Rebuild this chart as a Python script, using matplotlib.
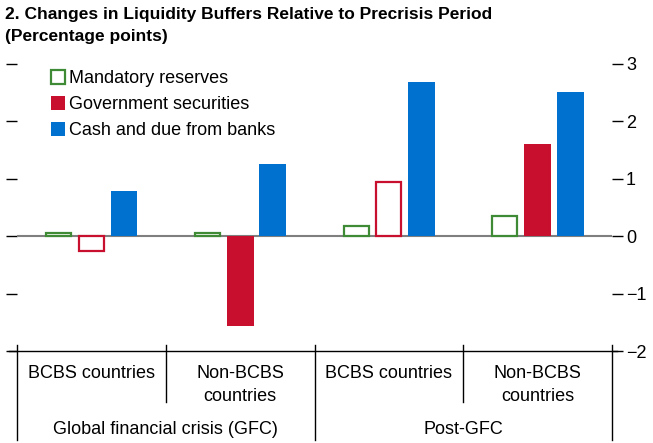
import matplotlib.pyplot as plt
import matplotlib.transforms as mtransforms
from matplotlib.patches import Patch
import numpy as np

plt.rcParams['font.family'] = ['Liberation Sans Narrow', 'Liberation Sans', 'DejaVu Sans']
plt.rcParams['axes.unicode_minus'] = True

periods = ["Global financial crisis (GFC)", "Post-GFC"]
groups = ["BCBS countries", "Non-BCBS\ncountries", "BCBS countries", "Non-BCBS\ncountries"]
series = ["Mandatory reserves", "Government securities", "Cash and due from banks"]
mandatory = [0.06, 0.06, 0.17, 0.36]
gov_sec = [-0.26, -1.56, 0.95, 1.61]
cash = [0.78, 1.26, 2.69, 2.52]
# True = solid bar, False = hollow bar
mandatory_filled = [False, False, False, False]
gov_sec_filled = [False, True, False, True]
cash_filled = [True, True, True, True]
yticks = [-2, -1, 0, 1, 2, 3]

colors = ["#3f8a34", "#c8102e", "#0071ce"]

fig = plt.figure(figsize=(6.53, 4.43), dpi=100)
ax = fig.add_axes([17 / 653, 1 - 351 / 443, 595 / 653, 287 / 443])

x = np.arange(len(groups))
width = 0.18
offs = [-0.22, 0.0, 0.22]
for vals, filled, off, c in zip([mandatory, gov_sec, cash],
                                [mandatory_filled, gov_sec_filled, cash_filled],
                                offs, colors):
    for xi, v, f in zip(x, vals, filled):
        if f:
            ax.bar(xi + off, v, width, color=c, zorder=3)
        else:
            ax.bar(xi + off, v, width - 0.012, facecolor="white", edgecolor=c,
                   linewidth=1.6, zorder=3)

ax.axhline(0, color="#7f7f7f", linewidth=1.5, zorder=2)
ax.set_xlim(-0.5, 3.5)
ax.set_ylim(-2, 3)

for s in ["top", "left", "right", "bottom"]:
    ax.spines[s].set_visible(False)

ax.set_xticks([])
ax.set_yticks(yticks)
ax.tick_params(axis="y", which="both", left=True, right=True, labelleft=False,
               labelright=True, direction="out", length=8, width=1.0,
               labelsize=13, pad=2)

# bottom axis line and category dividers
ax.plot([-0.014, 1.009], [0, 0], transform=ax.transAxes, color="black",
        linewidth=1.0, clip_on=False)
trans = mtransforms.blended_transform_factory(ax.transData, ax.transAxes)
for xb in [-0.5, 1.5, 3.5]:
    ax.plot([xb, xb], [0.022, -0.31], transform=trans, color="black",
            linewidth=1.0, clip_on=False)
for xb in [0.5, 2.5]:
    ax.plot([xb, xb], [0.022, -0.178], transform=trans, color="black",
            linewidth=1.0, clip_on=False)

for xi, g in zip(x, groups):
    ax.text(xi, -0.048, g, transform=trans, ha="center", va="top",
            fontsize=13, linespacing=1.45)
for i, p in enumerate(periods):
    ax.text(2 * i + 0.5, -0.275, p, transform=trans, ha="center",
            va="center", fontsize=13)

handles = [
    Patch(facecolor="white", edgecolor=colors[0], linewidth=1.6, label=series[0]),
    Patch(facecolor=colors[1], label=series[1]),
    Patch(facecolor=colors[2], label=series[2]),
]
ax.legend(handles=handles, loc="upper left", bbox_to_anchor=(0.045, 1.005),
          frameon=False, fontsize=13, handlelength=0.8, handleheight=0.8,
          handletextpad=0.2, labelspacing=0.5, borderaxespad=0)

fig.text(5 / 653, 1 - 7 / 443,
         "2. Changes in Liquidity Buffers Relative to Precrisis Period\n(Percentage points)",
         ha="left", va="top", fontsize=12.5, fontweight="bold", linespacing=1.6)

fig.savefig("out.png", dpi=100)
